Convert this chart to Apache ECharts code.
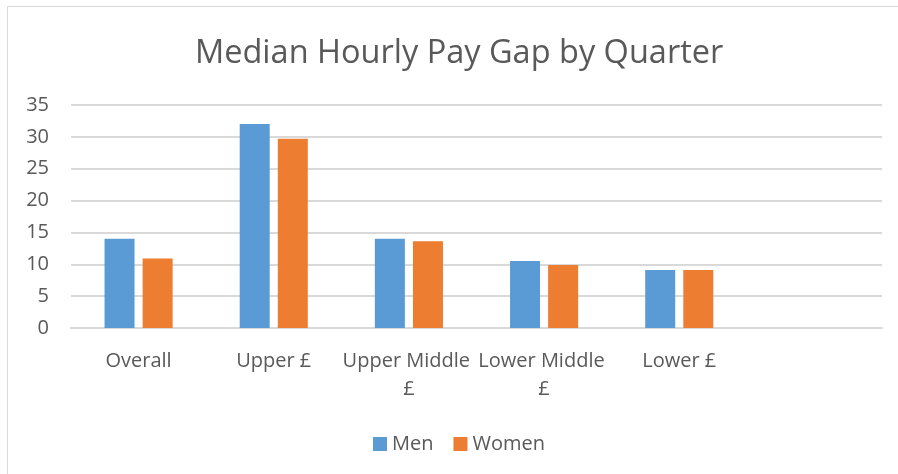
<!DOCTYPE html>
<html>
<head>
<meta charset="utf-8">
<script src="https://cdn.jsdelivr.net/npm/echarts@6/dist/echarts.min.js"></script>
<style>
  html, body { margin: 0; padding: 0; background: #fff; }
  #frame { position: absolute; left: 7px; top: 6px; width: 900px; height: 480px; border: 1px solid #d9d9d9; box-sizing: border-box; }
  #chart { position: absolute; left: 0; top: 0; width: 898px; height: 474px; }
</style>
</head>
<body>
<div id="frame"></div>
<div id="chart"></div>
<script>
const categories = ['Overall', 'Upper £', 'Upper Middle £', 'Lower Middle £', 'Lower £', '']
const men = [14, 32, 14, 10.5, 9.1, null]
const women = [10.9, 29.7, 13.6, 9.9, 9.1, null]
const yTicks = { min: 0, max: 35, interval: 5 }

const textColor = '#595959'
const font = '"Open Sans", sans-serif'

const chart = echarts.init(document.getElementById('chart'))
chart.setOption({
  animation: false,
  title: {
    text: 'Median Hourly Pay Gap by Quarter',
    left: 190,
    top: 32,
    textStyle: { color: textColor, fontFamily: font, fontSize: 32.5, fontWeight: 'normal' },
  },
  legend: {
    data: ['Men', 'Women'],
    top: 429,
    left: 368,
    itemWidth: 14,
    itemHeight: 14,
    itemGap: 20,
    icon: 'rect',
    textStyle: { color: textColor, fontFamily: font, fontSize: 20 },
  },
  grid: { left: 71, right: 16, top: 105, bottom: 146 },
  xAxis: {
    type: 'category',
    data: categories,
    axisLine: { lineStyle: { color: '#d9d9d9', width: 2 } },
    axisTick: { show: false },
    axisLabel: {
      color: textColor,
      fontFamily: font,
      fontSize: 20,
      margin: 19,
      lineHeight: 28,
      width: 135,
      overflow: 'break',
      interval: 0,
    },
  },
  yAxis: {
    type: 'value',
    min: yTicks.min,
    max: yTicks.max,
    interval: yTicks.interval,
    axisLine: { show: false },
    axisTick: { show: false },
    splitLine: { lineStyle: { color: '#d9d9d9', width: 2 } },
    axisLabel: { color: textColor, fontFamily: font, fontSize: 20, margin: 22 },
  },
  series: [
    {
      name: 'Men',
      type: 'bar',
      data: men,
      barWidth: 30,
      barGap: '27%',
      itemStyle: { color: '#5b9bd5' },
    },
    {
      name: 'Women',
      type: 'bar',
      data: women,
      barWidth: 30,
      itemStyle: { color: '#ed7d31' },
    },
  ],
})
</script>
</body>
</html>
